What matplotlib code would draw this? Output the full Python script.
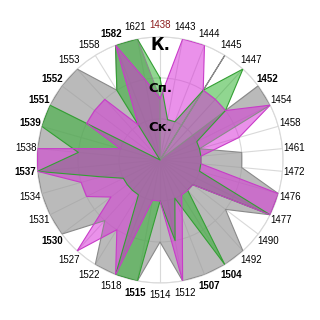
import numpy as np
import matplotlib
matplotlib.use('Agg')
import matplotlib.pyplot as plt

categories = ['1438', '1443', '1444', '1445', '1447', '1452', '1454', '1458', '1461', '1472',
              '1476', '1477', '1490', '1492', '1504', '1507', '1512', '1514', '1515', '1518',
              '1522', '1527', '1530', '1531', '1534', '1537', '1538', '1539', '1551', '1552',
              '1553', '1558', '1582', '1621']
bold_labels = ['1452', '1504', '1507', '1515', '1530', '1537', '1539', '1551', '1552', '1582']
red_labels  = ['1438']

gray_values  = [1.5, 0, 0, 3, 0, 3, 3, 1, 2, 2, 3, 3, 2, 3, 3, 3, 3, 2, 3, 3,
                3, 2, 3, 3, 3, 3, 3, 3, 3, 3, 3, 2, 3, 3]
green_values = [2, 1, 1, 2, 3, 2, 1, 1, 1, 1, 1, 3, 1, 1, 3, 1, 2, 1, 3, 3,
                1, 1, 1, 1, 1.5, 3, 2, 3, 3, 0, 0, 2, 3, 3]
pink_values  = [1.5, 3, 3, 2, 2, 2, 3, 2, 1, 1, 3, 3, 1, 1, 1, 1.5, 3, 1, 1, 3,
                2, 3, 1.5, 2, 2, 3, 3, 1, 2, 2, 2, 1, 3, 2]

level_labels = ['Ск.', 'Сп.', 'К.']

n = len(categories)
angles = np.linspace(0, 2 * np.pi, n, endpoint=False)
closed = np.append(angles, angles[0])

fig = plt.figure(figsize=(3.2, 3.2), dpi=100)
ax = fig.add_axes([0.1156, 0.1156, 0.769, 0.769], projection='polar')
ax.set_theta_zero_location('N')
ax.set_theta_direction(-1)
ax.set_ylim(0, 3)

series = [
    (gray_values,  '#9a9a9a', '#8a8a8a', 0.68),
    (green_values, '#23af23', '#33a033', 0.5),
    (pink_values,  '#d82dd8', '#c83cc8', 0.52),
]
for values, face, edge, alpha in series:
    v = np.append(values, values[0])
    ax.fill(closed, v, color=face, alpha=alpha, lw=0, zorder=2)
    ax.plot(closed, v, color=edge, lw=0.8, zorder=3)

ax.set_yticks([1, 2, 3])
ax.set_yticklabels([])
ax.set_xticks(angles)
ax.set_xticklabels([])
ax.grid(color='#d9d9d9', lw=0.8)
ax.set_axisbelow(True)
ax.spines['polar'].set_color('#d9d9d9')

for ang, cat in zip(angles, categories):
    weight = 'bold' if cat in bold_labels else 'normal'
    color = '#8b1a1a' if cat in red_labels else 'black'
    ax.text(ang, 3.29, cat, ha='center', va='center', fontsize=7,
            family='Liberation Sans', fontweight=weight, color=color)

ax.text(0, 2.8, level_labels[2], ha='center', va='center', fontsize=12, fontweight='bold', zorder=5)
ax.text(0, 1.75, level_labels[1], ha='center', va='center', fontsize=9.5, fontweight='bold', zorder=5)
ax.text(0, 0.8, level_labels[0], ha='center', va='center', fontsize=9.5, fontweight='bold', zorder=5)

fig.savefig('out.png', dpi=100)
